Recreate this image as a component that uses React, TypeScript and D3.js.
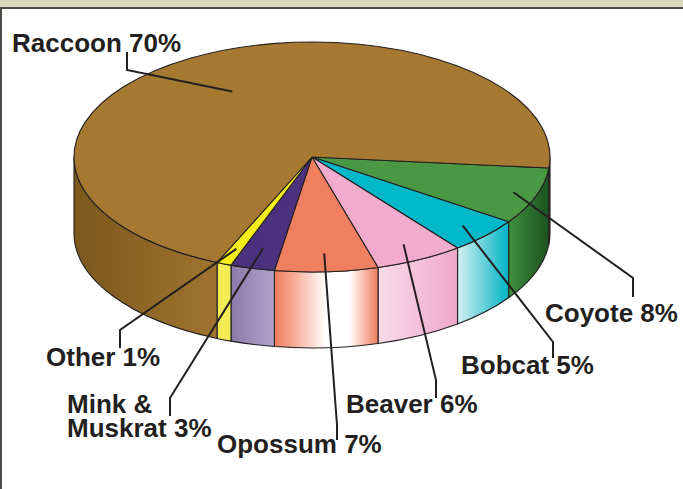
import * as d3 from 'd3';

// harvest share by species, listed clockwise starting at the right edge of the pie
const animals = ['Coyote', 'Bobcat', 'Beaver', 'Opossum', 'Mink & Muskrat', 'Other', 'Raccoon'];
const shares = [8, 5, 6, 7, 3, 1, 70];

const W = 683;
const H = 489;
const CX = 312, CY = 157, RX = 238, RY = 115, DEPTH = 76;
const START = (95.5 * Math.PI) / 180;
const INK = '#231f20';

const topFill: Record<string, string> = {
  Coyote: '#4a9844',
  Bobcat: '#00b8c9',
  Beaver: '#f0abcd',
  Opossum: '#f07f5f',
  'Mink & Muskrat': '#4b317e',
  Other: '#f6ee14',
  Raccoon: '#a67932',
};

const sideStops: Record<string, [number, string][]> = {
  Coyote: [[0, '#3f913e'], [1, '#1c5120']],
  Bobcat: [[0, '#d6f0f3'], [1, '#00b3c5']],
  Beaver: [[0, '#f9dde9'], [1, '#eea6ca']],
  Opossum: [[0, '#f07a58'], [0.5, '#ffffff'], [0.72, '#ffffff'], [1, '#ee7c5c']],
  'Mink & Muskrat': [[0, '#8a7aab'], [1, '#b1a4c9']],
  Other: [[0, '#f3ec55'], [1, '#f3ec55']],
  Raccoon: [[0, '#7c581d'], [1, '#a0742f']],
};

// label layout: text anchor, leader elbow and end, and how far into the slice the leader starts
const labels: Record<string, { x: number; y: number; lines: string[]; elbow: [number, number]; end: [number, number]; frac: number }> = {
  Raccoon: { x: 12, y: 52, lines: ['Raccoon 70%'], elbow: [127, 70], end: [127, 52], frac: 0.66 },
  Coyote: { x: 545, y: 322, lines: ['Coyote 8%'], elbow: [633, 278], end: [633, 297], frac: 0.9 },
  Bobcat: { x: 461, y: 374, lines: ['Bobcat 5%'], elbow: [553, 342], end: [553, 358], frac: 0.87 },
  Beaver: { x: 346, y: 413, lines: ['Beaver 6%'], elbow: [436, 380], end: [436, 398], frac: 0.85 },
  Opossum: { x: 217, y: 453, lines: ['Opossum 7%'], elbow: [337, 425], end: [337, 440], frac: 0.84 },
  'Mink & Muskrat': { x: 67, y: 413, lines: ['Mink &', 'Muskrat 3%'], elbow: [170, 398], end: [170, 416], frac: 0.82 },
  Other: { x: 46, y: 366, lines: ['Other 1%'], elbow: [120, 330], end: [120, 348], frac: 0.86 },
};

// parametric ellipse angle t (0 = right, clockwise on screen)
const pt = (t: number, dy = 0, f = 1): [number, number] => [
  CX + RX * f * Math.cos(t),
  CY + RY * f * Math.sin(t) + dy,
];

export default function App() {
  const data = animals.map((name, i) => ({ name, value: shares[i] }));
  const arcs = d3
    .pie<{ name: string; value: number }>()
    .sort(null)
    .value((d) => d.value)
    .startAngle(START)
    .endAngle(START + 2 * Math.PI)(data);

  const slices = arcs.map((a) => ({
    name: a.data.name,
    t0: a.startAngle - Math.PI / 2,
    t1: a.endAngle - Math.PI / 2,
  }));

  const topPath = (t0: number, t1: number) => {
    const [x0, y0] = pt(t0);
    const [x1, y1] = pt(t1);
    const large = t1 - t0 > Math.PI ? 1 : 0;
    return `M${CX},${CY}L${x0},${y0}A${RX},${RY} 0 ${large} 1 ${x1},${y1}Z`;
  };

  const sidePath = (s0: number, s1: number) => {
    const [x0, y0] = pt(s0);
    const [x1, y1] = pt(s1);
    return `M${x0},${y0}A${RX},${RY} 0 0 1 ${x1},${y1}L${x1},${y1 + DEPTH}A${RX},${RY} 0 0 0 ${x0},${y0 + DEPTH}Z`;
  };

  // front (visible) parts of each slice's wall
  const sides: { name: string; id: string; d: string }[] = [];
  slices.forEach((s, i) => {
    [0, 2 * Math.PI].forEach((off, k) => {
      const a = Math.max(s.t0, off);
      const b = Math.min(s.t1, off + Math.PI);
      if (b - a > 1e-4) sides.push({ name: s.name, id: `side-${i}-${k}`, d: sidePath(a, b) });
    });
  });

  return (
    <svg
      width={W}
      height={H}
      style={{ position: 'absolute', left: 0, top: 0, display: 'block' }}
      fontFamily="'Liberation Sans', Arial, Helvetica, sans-serif"
    >
      <defs>
        {sides.map((s) => (
          <linearGradient key={s.id} id={s.id} x1="0" y1="0" x2="1" y2="0">
            {sideStops[s.name].map(([o, c], j) => (
              <stop key={j} offset={o} stopColor={c} />
            ))}
          </linearGradient>
        ))}
      </defs>

      <rect x={0} y={0} width={W} height={H} fill="#d9d8bd" />
      <rect x={1} y={8} width={W + 20} height={H + 20} fill="#fff" stroke="#4d4d48" strokeWidth={2} />

      {sides.map((s) => (
        <path key={s.id} d={s.d} fill={`url(#${s.id})`} stroke={INK} strokeWidth={1.1} strokeLinejoin="round" />
      ))}
      {slices.map((s) => (
        <path key={s.name} d={topPath(s.t0, s.t1)} fill={topFill[s.name]} stroke={INK} strokeWidth={1.1} strokeLinejoin="round" />
      ))}

      {slices.map((s) => {
        const lb = labels[s.name];
        const mid = (s.t0 + s.t1) / 2;
        const [sx, sy] = pt(mid, 0, lb.frac);
        return (
          <polyline
            key={`leader-${s.name}`}
            points={`${sx},${sy} ${lb.elbow[0]},${lb.elbow[1]} ${lb.end[0]},${lb.end[1]}`}
            fill="none"
            stroke={INK}
            strokeWidth={2}
          />
        );
      })}

      {slices.map((s) => {
        const lb = labels[s.name];
        return (
          <text key={`label-${s.name}`} x={lb.x} y={lb.y} fontSize={26} fontWeight="bold" fill={INK}>
            {lb.lines.map((ln, j) => (
              <tspan key={j} x={lb.x} dy={j === 0 ? 0 : 24}>
                {ln}
              </tspan>
            ))}
          </text>
        );
      })}
    </svg>
  );
}
